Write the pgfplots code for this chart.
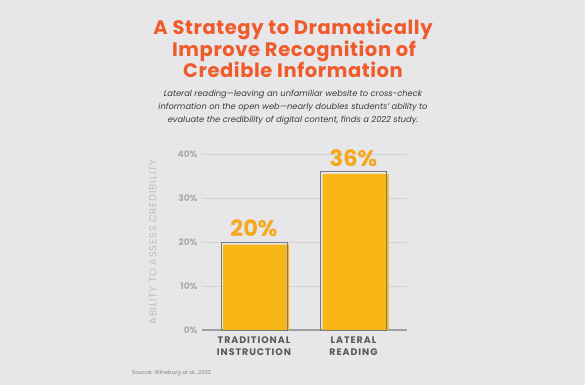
\documentclass[border=0pt]{standalone}
\usepackage{pgfplots}
\pgfplotsset{compat=1.18}
\usepackage{fontspec}
\setmainfont{Poppins}
\newfontfamily\titlefont[LetterSpace=3]{Poppins}
\newfontfamily\spaced[LetterSpace=8]{Poppins}
\newfontfamily\spacedb[LetterSpace=10]{Poppins}
\definecolor{bg}{HTML}{E7E7E9}
\definecolor{titlec}{HTML}{EF5B2B}
\definecolor{barc}{HTML}{F8B617}
\definecolor{valc}{HTML}{F5A81C}
\definecolor{subc}{HTML}{3A3A3A}
\definecolor{catc}{HTML}{58595B}
\definecolor{tickc}{HTML}{A7A9AC}
\definecolor{ylabc}{HTML}{BCBEC0}
\definecolor{gridc}{HTML}{D2D2D4}
\definecolor{basec}{HTML}{A0A0A2}
\definecolor{outc}{HTML}{7A7A7C}
\begin{document}
\begin{tikzpicture}[x=1pt,y=1pt]
\fill[bg] (0,0) rectangle (585,385);
\path[use as bounding box] (0,0) rectangle (585,385);
% title
\node[anchor=base, text=titlec, font=\titlefont\bfseries\fontsize{19.5}{21}\selectfont] at (293,350) {A Strategy to Dramatically};
\node[anchor=base, text=titlec, font=\titlefont\bfseries\fontsize{19.5}{21}\selectfont] at (294,328) {Improve Recognition of};
\node[anchor=base, text=titlec, font=\titlefont\bfseries\fontsize{19.5}{21}\selectfont] at (293,307) {Credible Information};
% subtitle
\node[anchor=base, text=subc, font=\itshape\fontsize{8.3}{10}\selectfont] at (293,288) {Lateral reading---leaving an unfamiliar website to cross-check};
\node[anchor=base, text=subc, font=\itshape\fontsize{8.3}{10}\selectfont] at (293,275) {information on the open web---nearly doubles students' ability to};
\node[anchor=base, text=subc, font=\itshape\fontsize{8.3}{10}\selectfont] at (293,262) {evaluate the credibility of digital content, finds a 2022 study.};
% source
\node[anchor=base west, text=tickc!80!black, font=\fontsize{5.5}{6}\selectfont, inner sep=0] at (132,11) {Source: Wineburg et al., 2022};
% y label
\node[rotate=90, text=ylabc, font=\spaced\fontsize{10}{12}\selectfont] at (153,143) {ABILITY TO ASSESS CREDIBILITY};
\begin{axis}[
  at={(202pt,55pt)}, anchor=south west,
  scale only axis, width=205pt, height=176pt,
  xmin=0, xmax=205, ymin=0, ymax=40,
  axis x line*=bottom, axis y line*=left,
  x axis line style={draw=basec, line width=1.4pt},
  y axis line style={draw=none},
  major tick length=0pt,
  ymajorgrids, grid style={draw=gridc, line width=0.6pt},
  ytick={0,10,20,30,40},
  yticklabel={\pgfmathprintnumber{\tick}\%},
  yticklabel style={text=tickc, font=\bfseries\fontsize{9}{10}\selectfont, xshift=-1pt},
  /pgf/number format/assume math mode=true,
  xtick={52,151.5},
  xticklabels={TRADITIONAL\\INSTRUCTION, LATERAL\\READING},
  xticklabel style={text=catc, font=\spacedb\bfseries\fontsize{9.5}{12}\selectfont, align=center, yshift=-3pt},
  clip=false,
]
\addplot[ybar, bar width=66, fill=barc, draw=none] coordinates {(54,19.4) (153.5,35.5)};
\addplot[ybar, bar width=66, fill=none, draw=outc, line width=0.9pt,
  nodes near coords={\pgfmathprintnumber{\pgfplotspointmeta}\%},
  every node near coord/.append style={text=valc, font=\bfseries\fontsize{22.5}{24}\selectfont, anchor=south, yshift=1pt}]
  coordinates {(52,20) (151.5,36)};
\end{axis}
\end{tikzpicture}
\end{document}
